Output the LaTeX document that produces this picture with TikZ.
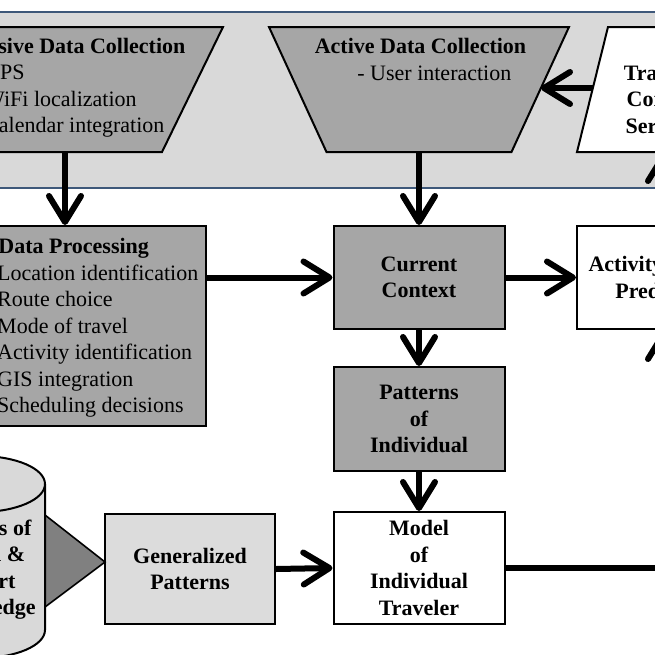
\documentclass[tikz,border=0pt]{standalone}
\usepackage{fontspec}
\setmainfont{Liberation Serif}
\usetikzlibrary{arrows.meta, positioning}

\definecolor{boxgray}{RGB}{166, 166, 166}
\definecolor{bandgray}{RGB}{217, 217, 217}
\definecolor{lightbox}{RGB}{220, 220, 220}
\definecolor{conegray}{RGB}{128, 128, 128}
\definecolor{bandblue}{RGB}{62, 88, 122}

\tikzset{
  darkbox/.style={draw=black, line width=1pt, fill=boxgray},
  whitebox/.style={draw=black, line width=1pt, fill=white},
  flow/.style={line width=3pt, -{Straight Barb[round, length=13pt, width=16pt]}},
  boldtext/.style={font=\fontsize{11}{13.25}\selectfont\bfseries, align=center, inner sep=0pt},
  plaintext/.style={font=\fontsize{11}{13.25}\selectfont, align=left, inner sep=0pt},
}

\begin{document}
\begin{tikzpicture}[x=0.5pt, y=0.5pt]
  \useasboundingbox (0,0) rectangle (655,-655);
  \fill[white] (0,0) rectangle (655,-655);
  \clip (0,0) rectangle (655,-655);

  % Data collection band
  \draw[bandblue, line width=0.8pt, fill=bandgray] (-120,-12) rectangle (780,-188);

  % Passive data collection
  \draw[darkbox] (-93,-27) -- (223,-27) -- (162,-152) -- (-32,-152) -- cycle;
  \node[boldtext, anchor=base west] (passivetitle) at (-35,-53) {Passive Data Collection};
  \node[plaintext, anchor=base west] (passivelist) at (-29,-132.5) {- GPS\\- WiFi localization\\- Calendar integration};
  \coordinate (passiveS) at (65,-152);

  % Active data collection
  \draw[darkbox] (269,-27) -- (569,-27) -- (511.5,-152) -- (326.5,-152) -- cycle;
  \node[boldtext, anchor=base] (activetitle) at (420.5,-53) {Active Data Collection};
  \node[plaintext, anchor=base west] (activelist) at (357,-80) {- User interaction};
  \coordinate (activeS) at (419,-152);
  \coordinate (activeE) at (541,-88);

  % Traveler context services
  \draw[whitebox] (608,-27) -- (720,-27) -- (751,-152) -- (577,-152) -- cycle;
  \node[boldtext, anchor=base] (travtext) at (664,-133) {Traveler\\Context\\Services};
  \coordinate (travW) at (593,-88);
  \coordinate (travS) at (664,-152);

  % Processing and context
  \node[darkbox, minimum width=141pt, minimum height=100pt] (dp) at (65,-326) {};
  \node[boldtext, anchor=base west] (dptitle) at (-2,-253) {Data Processing};
  \node[plaintext, anchor=base west] (dplist) at (-16,-412.5) {- Location identification\\- Route choice\\- Mode of travel\\- Activity identification\\- GIS integration\\- Scheduling decisions};

  \node[darkbox, boldtext, minimum width=85.5pt, minimum height=51.5pt] (current) at (419,-277.5) {Current\\Context};
  \node[whitebox, boldtext, minimum width=87pt, minimum height=51.5pt] (activity) at (664,-277.5) {Activity Pattern\\Prediction};
  \node[darkbox, boldtext, minimum width=85.5pt, minimum height=52pt] (patterns) at (419,-419) {Patterns\\of\\Individual};
  \node[whitebox, boldtext, minimum width=85.5pt, minimum height=56pt] (model) at (419,-568) {Model\\of\\Individual\\Traveler};
  \node[draw=black, line width=1pt, fill=lightbox, boldtext, minimum width=85pt, minimum height=55pt] (gp) at (190,-569) {Generalized\\Patterns};

  % Knowledge store
  \draw[line width=0.8pt, fill=conegray] (45,-515) -- (105,-562) -- (45,-607) -- cycle;
  \draw[line width=1pt, fill=bandgray] (-85,-484) -- (-85,-630) arc[start angle=180, end angle=360, x radius=65, y radius=28] -- (45,-484);
  \draw[line width=1pt, fill=bandgray] (-20,-484) ellipse[x radius=65, y radius=28];
  \node[boldtext, anchor=base] (sourcetext) at (-17,-614.5) {Sources of\\Travel \&\\Expert\\Knowledge};

  % Connectors
  \draw[flow] (travW) -- (activeE);
  \draw[flow] (passiveS) -- (dp.north);
  \draw[flow] (activeS) -- (current.north);
  \draw[flow] (dp.east |- current.west) -- (current.west);
  \draw[flow] (current.east) -- (activity.west);
  \draw[flow] (current.south) -- (patterns.north);
  \draw[flow] (patterns.south) -- (model.north);
  \draw[flow] (gp.east) -- (model.west);
  \draw[flow] (model.east) -| (activity.south);
  \draw[flow] (activity.north) -- (travS);
\end{tikzpicture}
\end{document}
